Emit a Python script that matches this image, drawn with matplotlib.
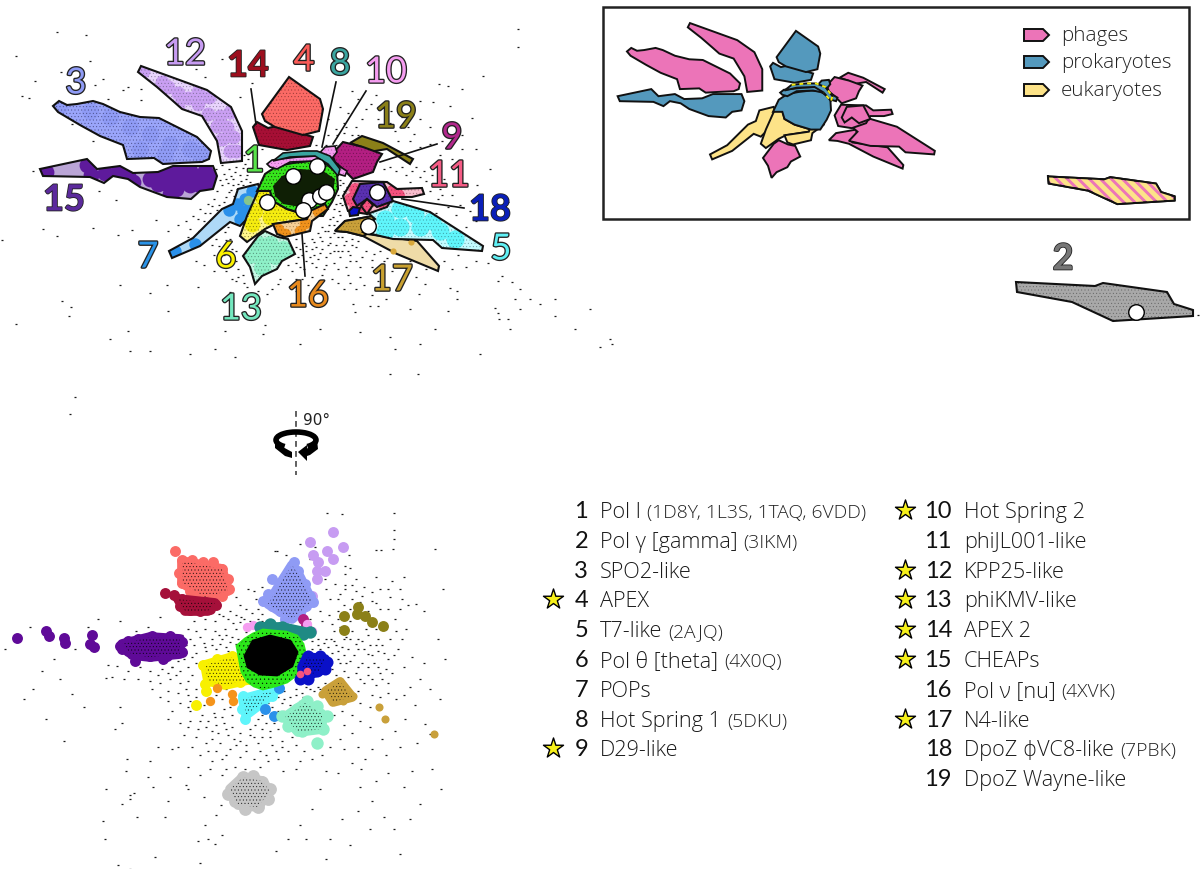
import numpy as np
import matplotlib
matplotlib.use('Agg')
import matplotlib.pyplot as plt
from matplotlib.patches import Polygon, Rectangle, Arc
from matplotlib import patheffects as pe

plt.rcParams['hatch.linewidth'] = 0.3

# outlines of the regions in the upper map
p1 = [(257,192),(265,175),(277,167),(293,164),(310,162),(323,163),(337,173),(338,190),(332,203),(323,217),(310,217),(287,210),(273,202),(270,192)]
p1_core = [(273,187),(282,177),(300,170),(323,172),(335,180),(333,193),(320,205),(300,208),(283,205),(275,197)]
p2 = [(1016,283),(1095,287),(1103,284),(1167,293),(1174,305),(1193,311),(1193,317),(1113,322),(1072,303),(1017,293)]
p3 = [(53,107),(59,102),(67,106),(77,105),(93,102),(103,105),(120,113),(140,118),(159,119),(177,128),(197,138),(211,152),(209,160),(202,163),(180,164),(163,165),(154,159),(127,160),(123,146),(100,137),(80,126),(58,113)]
p4 = [(262,115),(289,78),(320,100),(323,110),(319,132),(303,136),(275,128),(265,122)]
p5 = [(367,213),(393,202),(430,213),(483,247),(482,252),(442,249),(433,241),(393,240),(363,233),(375,220)]
p6 = [(240,237),(247,217),(259,190),(270,190),(273,202),(287,210),(310,217),(307,220),(275,225),(265,230),(247,243)]
p7 = [(169,252),(193,239),(222,210),(233,205),(238,190),(258,185),(261,193),(250,217),(240,227),(230,223),(200,247),(172,259)]
p8 = [(283,154),(303,152),(317,152),(330,157),(340,170),(338,177),(328,165),(315,157),(290,158),(273,162)]
p9 = [(332,155),(343,143),(363,148),(382,155),(377,163),(373,173),(353,180),(343,170),(335,163)]
p10 = [(267,165),(272,161),(298,158),(317,157),(325,148),(335,147),(337,153),(330,162),(347,172),(345,177),(338,175),(327,165),(313,162),(290,163),(277,170),(270,168)]
p11 = [(343,197),(352,182),(387,183),(397,190),(422,189),(424,195),(412,198),(393,198),(387,208),(367,215),(348,212)]
p12 = [(138,73),(141,67),(207,91),(231,108),(242,132),(242,162),(221,164),(217,142),(202,117),(182,110),(173,102),(157,88)]
p13 = [(243,257),(258,237),(265,232),(278,238),(288,240),(295,255),(282,262),(277,270),(262,277),(255,285),(250,268)]
p14 = [(253,128),(257,123),(268,129),(277,127),(313,138),(310,147),(287,151),(259,146)]
p15 = [(40,170),(87,160),(97,170),(120,167),(133,174),(158,173),(173,167),(213,167),(217,177),(213,190),(200,192),(191,200),(167,198),(140,188),(128,180),(113,177),(104,184),(90,178),(43,177)]
p16 = [(273,225),(307,220),(310,212),(325,205),(328,210),(312,222),(310,232),(285,238),(277,235)]
p17 = [(335,232),(345,222),(373,217),(375,227),(367,235),(417,242),(439,267),(438,272),(397,255),(363,237),(347,233)]
p17_top = [(335,232),(345,222),(373,217),(375,227),(367,235),(363,237),(347,233)]
p18 = [(353,200),(360,185),(383,183),(393,202),(377,208),(367,200),(357,207)]
p18_small = [(349,212),(353,208),(360,209),(358,216),(350,217)]
p11_diamond = [(361,207),(367,200),(373,206),(367,215)]
p19 = [(350,144),(362,137),(383,144),(413,160),(410,165),(387,150),(375,152),(373,164),(367,155),(362,148)]

# darker patches inside the outlines
blobs3 = [(60,106),(90,112),(110,118),(130,128),(150,135),(170,145),(190,150),(200,155),(140,150),(165,155)]
blobs5 = [(385,220),(400,210),(415,215),(400,228),(420,228),(440,232),(432,222),(455,240),(385,232)]
blobs6 = [(262,198),(270,207),(282,214),(255,212),(270,218),(295,216),(252,225)]
blobs7 = [(245,200),(252,192),(237,205),(243,212),(240,220),(250,208),(229,211),(195,245),(175,252)]
blobs11 = [(355,190),(350,200),(355,210),(362,212),(392,192),(398,196),(385,210)]
blobs12 = [(162,83),(168,88),(178,94),(188,99),(198,93),(209,98),(198,105),(208,115),(220,117),(230,113),(217,127),(227,128),(233,138),(222,140),(230,152),(178,107),(143,72),(236,152)]
blobs13 = [(258,245),(270,245),(283,250),(262,258),(275,257),(288,255),(250,256),(262,268)]
blobs15 = [(46,173),(87,166),(91,176),(105,174),(118,172),(128,177),(133,183),(170,195),(157,177),(165,173),(177,172),(190,172),(205,172),(212,178),(210,186),(200,186),(190,186),(180,184),(167,185),(158,185),(170,180),(185,180),(198,180),(176,190),(150,180)]
blobs16 = [(278,230),(285,235),(300,232),(305,224),(318,212),(325,208)]
blobs19 = [(362,143),(372,145),(383,148),(395,153),(405,160),(369,152),(356,142),(377,152)]

# names and colours
region_no = ['1','2','3','4','5','6','7','8','9','10','11','12','13','14','15','16','17','18','19']
label_col = ['#58e34a','#777777','#8f9bf5','#fb5b57','#5ff0f5','#fbf200','#2a93e8','#3aa5a0','#b2288c','#f59df0','#f55c85','#c79cf2','#74e8bf','#9c0f1e','#5b2a9c','#e88a1e','#c8a030','#0a1fb8','#8b8018']
label_x = [254,1063,76,304,501,226,148,340,452,386,449,185,241,248,64,308,392,490,396]
label_y = [162,260,84,61,250,258,258,65,139,73,177,55,310,67,201,297,281,211,118]
label_bold = ['14','18','15','2']

legend_names = ['Pol I','Pol γ [gamma]','SPO2-like','APEX','T7-like','Pol θ [theta]','POPs','Hot Spring 1','D29-like','Hot Spring 2','phiJL001-like','KPP25-like','phiKMV-like','APEX 2','CHEAPs','Pol ν [nu]','N4-like','DpoZ ϕVC8-like','DpoZ Wayne-like']
legend_pdb = ['(1D8Y, 1L3S, 1TAQ, 6VDD)','(3IKM)','','','(2AJQ)','(4X0Q)','','(5DKU)','','','','','','','','(4XVK)','','(7PBK)','']
legend_star = [4,9,10,12,13,14,15,17]

group_names = ['phages','prokaryotes','eukaryotes']
group_cols = ['#ec74b8','#5499bd','#fde388']

# white circles on the solved structures
white_x = [293,317,267,309,303,320,326,377,368,1136]
white_y = [177,167,203,201,211,197,193,193,227,313]

# upper map: loose dots read by eye
top_dots = [(57,33),(86,36),(16,57),(90,62),(61,73),(35,82),(103,80),(95,86),(123,91),(141,90),(22,97),(29,99),(141,101),(72,125),(93,142),(33,172),(99,192),(116,201),(156,221),(43,230),(93,229),(132,231),(2,241),(57,237),(118,236),(120,286),(167,286),(150,294),(62,302),(71,308),(69,317),(168,312),(16,325),(128,332),(265,326),(225,332),(263,335),(198,288),(247,288),(278,285),(267,295),(236,282),(230,293),
(518,30),(518,48),(483,77),(439,85),(448,87),(462,90),(420,102),(433,103),(450,107),(472,119),(420,120),(490,170),(477,186),(508,203),(450,289),(457,292),(457,300),(448,312),(495,309),(498,314),(499,320),(508,320),(512,283),(502,277),(498,282),(419,295),(353,305),(370,307),(378,307),(355,313),(360,333),(390,338),
(515,300),(555,317),(610,340),(590,310),(600,348),(510,330),(520,290),(540,305),(70,415),(75,398),(150,352),(190,355),(110,340),(130,352),(215,350),(235,358),(300,345),(320,330),(420,345),(395,350),(480,355),(390,375),(418,375),(530,300),(575,330),(612,345),(555,300),(520,310),(425,285),(410,310),(435,330),(1198,316),
(352,92),(358,100),(371,105),(340,108),(362,120),(376,96),(391,112),(402,104),(414,135),(430,128),(395,132),(408,128),(385,128),(356,128),(344,124),(328,120),(337,136),(222,60),(205,78),(176,82),(196,70),(108,100),(128,88),(240,98),(252,84),(211,102),(236,74),
(245,165),(249,172),(240,176),(236,168),(229,170),(224,175),(233,180),(228,184),(246,180),(252,170),(243,186),(237,190),(222,186),(217,192),(231,191),(214,200),(226,198),(219,206),(208,205),(200,210),(210,214),(193,217),(186,222),(204,222),(190,230),(178,226),(168,232),(220,220),(212,230),(205,236),(216,240),(225,233),(230,240),(224,248),(232,250),(214,256),(220,262),(236,262),(238,270),(226,272),(214,272),(204,266),(196,262),(232,280),(244,284),(248,296),(258,292),(272,290),(280,280),(292,272),(300,268),(306,262),(314,256),(322,250),(330,244),(338,238),(312,240),(320,238),(328,232),(334,226),(340,216),(334,210),(342,206),(330,220),(322,228),(316,248),(304,244),(296,240),(306,252),(298,258),(326,258),(334,252),(344,246),(352,240),(340,258),(348,252),(356,248),(316,268),(326,266),(338,270),(350,262),(362,258),(374,255),(360,268),(372,268),(384,262),(392,272),(348,276),(360,278),(332,280),(322,276),(312,278),(302,280),(296,292),(310,294),(326,296),(344,290),(356,290),(372,296),(386,300),(404,280),(416,278),(426,270),(444,262),(452,270),(466,268),(476,262),(458,256),(488,264),(502,258),
(340,186),(344,192),(338,196),(346,200),(340,204),(352,176),(362,176),(384,170),(396,172),(406,176),(416,168),(424,172),(438,170),(410,183),(426,182),(440,190),(452,196),(438,200),(448,208),(456,216),(466,228),(476,222),(436,214),(346,128),(358,136),(336,146),(326,146),(316,146),(300,148),(286,154),(262,150),(250,152),(244,156),(238,158),(232,148),(226,152),(248,160),(222,166),(216,170),(440,156),(452,160),(462,150),(430,145),(442,142),(462,136),(476,150)]
top_dots_near = [(243,169),(247,176),(241,182),(250,183),(235,173),(231,177),(238,185),(233,186),(226,180),(220,181),(229,193),(234,197),(224,203),(217,211),(212,207),(205,214),(198,220),(207,228),(199,232),(188,238),(216,221),(222,226),(228,228),(226,241),(219,247),(212,246),(236,252),(231,257),(224,256),(238,278),(229,264),(243,276),
(340,181),(343,184),(347,188),(349,193),(341,199),(345,205),(336,205),(339,212),(333,218),(337,222),(329,226),(325,232),(318,234),(314,243),(322,242),(330,238),(334,234),(328,246),(336,246),(342,238),(320,254),(312,250),(306,247),(300,250),(296,248),(302,256),(310,258),(318,260),(330,254),(338,252),(346,242),(352,246),(342,252),(350,256),(358,242),(366,252),(372,261),(380,252),(387,259),(356,262),(346,268),(334,264),(324,270),(312,264),(304,270),(296,264),(288,266),(296,280),(308,286),(320,284),(338,284),(350,284),(364,286),(378,282),(400,268),(410,262),(420,256),
(390,168),(402,168),(412,172),(420,178),(432,176),(444,180),(430,192),(442,196),(460,206),(470,212),(480,218),(352,136),(344,134),(336,130),(328,136),(348,114),(366,110),(378,120),(390,124),(402,118),(410,142),(420,148),(398,142)]

# lower map: loose dots read by eye
low_dots = [(327,514),(342,515),(394,514),(394,531),(394,540),(393,550),(376,551),(381,551),(349,556),(277,552),(315,548),(300,545),(241,618),(246,633),(215,622),(205,620),(219,615),(230,612),(236,598),(246,610),(256,600),(254,592),(262,588),(248,590),(240,606),(223,617),(252,614),(262,615),(258,620),(265,606),
(345,567),(350,569),(356,580),(345,575),(345,586),(356,592),(330,600),(340,595),(352,600),(362,597),(372,593),(380,590),(390,598),(388,610),(376,604),(368,612),(388,590),(400,590),(408,606),(395,620),(406,630),(402,640),(398,650),(390,640),(378,640),(368,636),(358,640),(352,632),(344,640),(334,632),(326,640),(318,640),(328,648),(338,652),(348,650),(358,650),(368,655),(378,652),(388,660),(374,664),(362,664),(350,662),(340,664),(332,670),(344,672),(356,674),(368,676),(380,674),(392,674),(388,684),(376,686),(364,684),(358,692),(372,696),(360,704),(370,708),(380,698),(388,694),(396,700),(404,696),(410,688),(404,668),(412,658),(424,664),(420,680),(430,690),(415,706),(405,720),(395,732),(382,740),(370,728),(360,722),(352,716),(342,712),(334,716),(344,726),(352,734),(340,740),(330,748),(322,756),(344,750),(358,748),(372,750),(365,760),(352,764),(386,756),(400,748),(417,744),(430,735),(412,772),(404,788),(388,774),(376,782),(360,788),(372,802),(358,812),(342,820),(384,818),(394,830),(370,830),(361,770),(338,774),(326,772),
(325,684),(318,688),(312,680),(322,696),(310,690),(302,694),(296,690),(290,698),(284,692),(300,702),(290,706),(282,704),(274,700),(268,704),(278,712),(262,716),(255,726),(250,736),(240,734),(232,728),(224,724),(234,740),(246,746),(258,744),(270,738),(282,742),(292,738),(276,752),(266,756),(254,760),(240,758),(230,750),(220,744),(212,740),(206,728),(200,722),(188,728),(196,738),(208,752),(222,760),(235,768),(222,776),(210,770),(200,776),(188,768),(178,748),(172,750),(158,748),(150,762),(127,760),(148,778),(126,772),(170,778),(188,790),(186,786),(168,802),(153,788),(134,794),(122,805),(137,818),(106,790),(103,822),(130,800),(105,840),(130,796),(165,818),(205,826),(222,836),(208,840),(198,842),(215,845),(200,864),(216,816),(221,806),(204,798),(226,770),(245,770),(260,768),(283,772),(296,770),(320,790),(312,810),(300,826),(288,840),(276,852),(306,840),(330,840),(326,860),(350,846),(118,866),(130,870),(155,858),
(194,622),(188,630),(182,636),(196,632),(205,630),(215,632),(225,630),(236,630),(232,638),(222,640),(212,640),(204,644),(194,646),(196,654),(206,652),(216,650),(226,648),(236,645),(186,646),(188,668),(180,672),(172,668),(162,670),(150,672),(140,668),(128,672),(117,667),(108,666),(112,678),(124,680),(138,680),(150,682),(160,684),(170,680),(180,684),(188,682),(192,676),(196,698),(188,696),(178,694),(168,692),(160,698),(152,690),(120,708),(106,679),(122,724),(115,730),(190,712),(202,716),(214,714),(224,710),(232,716),(216,726),(230,708),(204,706),(188,708),(172,712),(180,724),(168,720),
(275,552),(286,556),(310,560),(326,590),(338,600),(344,606),(329,616),(322,622),(332,625),(338,620),(346,638),(310,620),(320,612),(224,576),(160,618),(148,628),(136,632),(120,622),(98,620),(88,628),(75,650),(54,660),(42,672),(33,690),(24,700),(60,680),(72,695),(46,720),(84,708),(64,742),(5,650),(30,628),(416,605),(435,550),(443,590),(424,612),(438,640),(445,660),(440,700),(425,725),(432,770),(441,790),(420,805),(410,820),(400,855)]
low_dots_near = [(228,620),(233,624),(240,623),(236,616),(244,620),(250,622),(258,610),(262,622),(226,636),(219,636),(230,643),(238,640),(212,646),(220,645),(228,652),(205,648),(200,638),
(312,642),(318,646),(324,644),(331,640),(336,646),(342,648),(350,640),(356,645),(362,642),(370,646),(376,646),(382,646),(312,650),(320,650),(332,654),(344,656),(354,656),(364,650),(372,656),(384,654),(394,656),(338,660),(346,664),(358,668),(368,668),(378,668),(386,670),(336,676),(348,678),(360,680),(372,680),(382,680),
(300,684),(306,688),(314,692),(320,690),(296,696),(303,698),(278,698),(284,700),(272,708),(284,712),(290,714),(258,708),(250,730),(258,720),(266,724),(274,724),(262,730),(270,732),(278,730),(254,738),(262,738),(272,746),(282,748),(240,742),(246,752),(260,752),(268,762),(278,760),(288,752),(296,746),(304,752),(312,760),(300,762),
(215,718),(208,722),(222,718),(226,730),(218,734),(212,732),(228,736),(236,746),(226,756),(216,752),(206,744),(198,730),(190,722),(184,736),(192,748),(200,756),(212,762),
(196,664),(192,658),(184,660),(178,662),(186,654),(190,640),(172,668),(158,676),(168,674),(176,676),(186,690),(196,690),(190,702),(180,704),(168,702),(208,694),(216,696),(222,700),(226,690),
(400,610),(380,610),(372,602),(360,603),(350,610),(338,612),(366,630),(376,630),(386,630),(396,632),(350,622),(340,628),(334,642),(345,590),(335,585),(325,580),(352,586),(364,588),(376,578),(392,582),(404,578),(402,600)]

# lower map: coloured clusters, round dots and the solid part they merge into
low_4 = [(175,552),(182,561),(192,561),(203,563),(213,563),(222,570),(228,580),(229,590),(222,597),(212,600),(200,598),(190,592),(182,584),(179,574),(190,572),(200,572),(210,575),(218,582),(200,585),(210,590)]
low_14 = [(165,594),(174,596),(182,600),(180,607),(190,611),(200,612),(210,610),(216,606),(205,603),(195,604),(187,605)]
low_15 = [(17,639),(46,632),(49,637),(64,639),(65,644),(92,636),(90,645),(94,648),(120,647),(130,645),(138,640),(152,637),(170,637),(182,643),(182,653),(167,657),(150,657),(135,662),(128,652),(143,648),(157,647),(170,647),(163,660),(148,640),(128,642),(160,640),(122,650)]
low_3 = [(294,563),(290,570),(298,572),(285,578),(295,580),(305,585),(272,580),(280,587),(290,590),(300,595),(310,597),(313,603),(263,602),(268,595),(277,598),(287,600),(297,605),(306,607),(272,607),(280,612),(290,612),(300,615),(285,620)]
low_12 = [(333,533),(310,543),(343,548),(327,552),(333,560),(313,556),(318,563),(325,572),(317,572),(317,580),(312,597),(307,603)]
low_19 = [(358,608),(357,615),(365,617),(372,623),(383,627),(344,617),(344,631)]
low_8 = [(260,628),(270,625),(282,628),(293,632),(303,635),(310,633)]
low_10 = [(247,628),(253,626),(307,625),(312,632)]
low_9 = [(303,620),(306,626)]
low_18 = [(308,657),(320,657),(327,663),(317,672),(305,668),(300,680),(308,680),(325,670)]
low_11 = [(307,672),(300,675)]
low_17 = [(340,682),(333,688),(343,688),(327,693),(337,697),(348,697),(322,695),(333,702),(343,702),(353,697),(379,708),(385,720),(434,735)]
low_13 = [(307,702),(317,707),(327,717),(323,730),(302,732),(288,727),(282,717),(297,710),(310,717),(303,723),(317,723),(317,744)]
low_5 = [(245,720),(242,710),(250,707),(243,697),(257,700),(267,697),(277,690),(272,697)]
low_7 = [(265,710),(274,717),(279,689)]
low_6 = [(203,666),(217,660),(232,657),(213,673),(228,670),(240,667),(223,683),(240,683),(250,680),(205,685),(206,692),(196,706)]
low_16 = [(217,689),(210,702),(232,695),(233,702)]
low_2 = [(235,790),(243,778),(253,777),(262,783),(270,790),(268,800),(258,808),(245,810),(235,802),(228,795),(250,790),(255,797),(242,798),(250,784)]
low_1_halo = [(237,647),(245,640),(253,635),(263,631),(273,632),(286,633),(297,637),(303,645),(305,653),(304,662),(300,670),(295,677),(287,683),(275,687),(263,690),(254,687),(247,682),(242,673),(240,663)]
low_1_core = [(245,657),(253,642),(270,637),(290,642),(297,653),(292,667),(277,676),(260,675),(248,668)]

solid_4 = [(182,562),(222,570),(228,592),(205,598),(182,584)]
solid_14 = [(178,600),(215,604),(208,612),(185,612)]
solid_15 = [(122,645),(150,638),(180,640),(180,655),(150,658),(132,656)]
solid_3 = [(292,566),(300,578),(312,602),(292,620),(268,605),(280,585)]
solid_6 = [(205,666),(232,658),(252,680),(225,686),(208,682)]
solid_13 = [(285,718),(305,704),(322,715),(322,730),(298,733)]
solid_17 = [(326,692),(340,683),(352,698),(333,703)]
solid_2 = [(230,790),(243,778),(262,782),(270,792),(258,808),(238,806)]
solid_5 = [(243,700),(276,691),(262,704),(246,716)]
solid_18 = [(307,658),(325,660),(320,672),(303,678),(302,668)]
solid_8 = [(260,628),(282,628),(310,634),(294,634),(270,628)]

fig = plt.figure(figsize=(12.03, 8.7), dpi=100)
ax = fig.add_axes([0, 0, 1, 1])
ax.set_xlim(0, 1203)
ax.set_ylim(870, 0)
ax.axis('off')

edge = '#111111'


def region(pts, col, blobs=None, blob_col=None, blob_s=90, dots=None, z=3, lw=1.5):
    patch = Polygon(pts, closed=True, fc=col, ec='none', zorder=z)
    ax.add_patch(patch)
    if blobs is not None:
        b = np.array(blobs)
        sc = ax.scatter(b[:, 0], b[:, 1], s=blob_s, c=blob_col, lw=0, zorder=z)
        sc.set_clip_path(patch)
    if dots is not None:
        ax.add_patch(Polygon(pts, closed=True, fill=False, ec=dots, hatch='.....', lw=0, zorder=z))
    ax.add_patch(Polygon(pts, closed=True, fill=False, ec=edge, lw=lw, joinstyle='miter', zorder=z))
    return patch


def dashes(points, z=2, s=3.5):
    d = np.array(points)
    ax.scatter(d[:, 0], d[:, 1], s=s, marker='_', c='#1a1a1a', lw=0.9, zorder=z)


def cluster(points, col, solid=None, s=62, z=3, dots='#000000dd'):
    c = np.array(points)
    ax.scatter(c[:, 0], c[:, 1], s=s, c=col, lw=0, zorder=z)
    if solid is not None:
        ax.add_patch(Polygon(solid, closed=True, fc=col, ec=col, lw=7, joinstyle='round', zorder=z))
        if dots:
            ax.add_patch(Polygon(solid, closed=True, fill=False, ec=dots, hatch='.....', lw=0, zorder=z))


# upper map
dashes(top_dots)
dashes(top_dots_near)
region(p12, '#e8d4fc', blobs12, '#c99ff2', 100, '#55506a99')
region(p3, '#9aa5fa', blobs3, '#8f9bf5', 150, '#2a2a5aaa')
region(p15, '#baa5d6', blobs15, '#5e1a9c', 130)
region(p7, '#aed9f7', blobs7, '#2a90ea', 80)
ax.scatter([248], [201], s=45, c='#86c58c', lw=0, zorder=3)
region(p14, '#a60f35', dots='#40000a66')
region(p4, '#fb6a65', dots='#4a101088')
region(p19, '#d8cd95', blobs19, '#8b8018', 110)
region(p9, '#b31f82', dots='#33001f77')
region(p13, '#c5f8e5', blobs13, '#8ef0c8', 150, '#22443888')
region(p6, '#fff68a', blobs6, '#f5ec10', 130, '#3a380099')
region(p1, '#36e51c', dots='#0a2a00')
region(p1_core, '#0f1f05', lw=0)
ax.patches[-1].set_edgecolor('none')
region(p16, '#f6cf95', blobs16, '#f0921c', 70, '#40200066')
region(p10, '#f59df0', dots='#50205066', lw=1.2)
region(p8, '#3aa5a0', lw=1.2)
region(p17, '#efdca8')
region(p17_top, '#c9a03a', dots='#40300066')
ax.scatter([393, 411], [252, 243], s=20, c='#d9a83a', lw=0, zorder=3)
region(p5, '#c2fbff', blobs5, '#5ff5fb', 170, '#1a4a5077')
region(p11, '#f8bdcd', blobs11, '#f4527f', 85, '#40101866')
region(p18, '#5a30b0', dots='#15084066')
region(p18_small, '#0a10c8')
region(p11_diamond, '#f4527f', dots='#40101866')
region(p2, '#a8a8a8', dots='#30303088')

ax.plot([251, 256], [90, 125], c=edge, lw=1.2, zorder=4)
ax.plot([336, 322], [83, 148], c=edge, lw=1.2, zorder=4)
ax.plot([366, 333], [92, 145], c=edge, lw=1.2, zorder=4)
ax.plot([437, 380], [145, 163], c=edge, lw=1.2, zorder=4)
ax.plot([464, 402], [209, 200], c=edge, lw=1.2, zorder=4)
ax.plot([305, 302], [277, 235], c=edge, lw=1.2, zorder=4)

ax.scatter(white_x, white_y, s=125, c='white', edgecolors='black', lw=1.0, zorder=5)

for n, c, x, y in zip(region_no, label_col, label_x, label_y):
    bold = n in label_bold
    ax.text(x, y, n, color=c, family='Lato', weight='bold' if bold else 'normal', fontsize=26, ha='center',
            va='center', zorder=6, path_effects=[pe.withStroke(linewidth=1.2 if bold else 1.9, foreground='#222222')])

# inset with the same outlines, scaled
ax.add_patch(Rectangle((603, 8), 586, 212, fill=False, ec='#222222', lw=1.8, zorder=3))


def inset(pts, col, x0=589):
    a = np.array(pts, dtype=float)
    a[:, 0] = a[:, 0] * 0.716 + x0
    a[:, 1] = a[:, 1] * 0.71 - 23.5
    return ax.add_patch(Polygon(a, closed=True, fc=col, ec=edge, lw=1.4, joinstyle='miter', zorder=4))


pink, blue, yellow = group_cols[0], group_cols[1], group_cols[2]
for pts, col in [(p12, pink), (p3, pink), (p15, blue), (p7, yellow), (p14, blue), (p4, blue), (p19, pink), (p9, pink),
                 (p13, pink), (p6, yellow), (p16, yellow), (p1, blue), (p10, blue), (p8, blue), (p17, pink), (p5, pink),
                 (p11, pink), (p18, pink)]:
    inset(pts, col)
a8 = np.array(p8, dtype=float)
ax.plot(a8[:7, 0] * 0.716 + 589, a8[:7, 1] * 0.71 - 23.5, c='#f5ee10', lw=1.4, ls=(0, (2, 2)), zorder=5)

p2_patch = inset(p2, pink, 320.5)
for c in np.arange(1030, 1230, 11):
    line, = ax.plot([c, c + 40], [170, 210], c=yellow, lw=3.5, zorder=4)
    line.set_clip_path(p2_patch)
p2_line = np.array(p2 + p2[:1], dtype=float)
ax.plot(p2_line[:, 0] * 0.716 + 320.5, p2_line[:, 1] * 0.71 - 23.5, c=edge, lw=1.4, zorder=5)

for name, col, y in zip(group_names, group_cols, [36, 63, 91]):
    ax.add_patch(Polygon([(1024, y - 6), (1043, y - 6), (1049, y), (1043, y + 6), (1024, y + 6)], closed=True,
                         fc=col, ec=edge, lw=1.4, zorder=4))
    ax.text(1061, y, name, family='Open Sans', weight='light', fontsize=14.8, color='#222222', va='center', zorder=4)

# rotation sign
ax.plot([296, 296], [412, 476], c='#444444', lw=1.2, ls=(0, (3.5, 2.5)), zorder=2)
ax.add_patch(Arc((296, 441), 40, 16, theta1=150, theta2=390, lw=4, color='black', zorder=3))
ax.add_patch(Polygon([(275, 441), (275, 449), (285, 457), (292, 459), (292, 453), (281, 447)], fc='black', ec='none', zorder=3))
ax.add_patch(Polygon([(317, 441), (318, 450), (310, 456), (304, 458), (304, 451), (312, 447)], fc='black', ec='none', zorder=3))
ax.add_patch(Polygon([(298, 453), (307, 446), (307, 462)], fc='black', ec='none', zorder=3))
ax.text(303, 421, '90°', fontsize=11, color='#222222', va='center', zorder=4)

# lower map
dashes(low_dots)
dashes(low_dots_near)
cluster(low_4, '#fb6b66', solid_4)
cluster(low_14, '#a5103a', solid_14)
cluster(low_15, '#5f0a98', solid_15)
cluster(low_12, '#c79cf2')
cluster(low_3, '#8f9bf5', solid_3)
cluster(low_19, '#8b8018')
cluster(low_9, '#b31f82')
cluster(low_10, '#f59df0', s=45)
cluster(low_8, '#1f8a84', solid_8, s=80, dots=None)
cluster(low_5, '#5ff5fb', solid_5)
cluster(low_7, '#2a90ea')
cluster(low_13, '#8ef0c8', solid_13, s=80)
cluster(low_17, '#c9a03a', solid_17, s=34)
cluster(low_6, '#f8f000', solid_6)
cluster(low_16, '#f5941a', s=45)
cluster(low_2, '#c6c6c6', solid_2, s=85)
ax.add_patch(Polygon(low_1_halo, closed=True, fc='#2be81a', ec='#2be81a', lw=2, zorder=3))
ax.add_patch(Polygon(low_1_halo, closed=True, fill=False, ec='black', hatch='....', lw=0, zorder=3))
ax.add_patch(Polygon(low_1_core, closed=True, fc='black', ec='black', lw=2, zorder=3))
cluster(low_18, '#0a10c8', solid_18, s=75)
cluster(low_11, '#f4527f', s=30)

# legend list
fig.canvas.draw()
rend = fig.canvas.get_renderer()
inv = ax.transData.inverted()
for i, (n, name, pdb) in enumerate(zip(region_no, legend_names, legend_pdb)):
    row = i if i < 9 else i - 9
    y = 518 + 29.8 * row
    xn, xt, xs = (588, 600, 553) if i < 9 else (952, 964, 905)
    ax.text(xn, y, n, family='Lato', fontsize=17, ha='right', va='baseline', color='#111111')
    t = ax.text(xt, y, name, family=['Open Sans', 'DejaVu Sans'], weight='light', fontsize=15.6, va='baseline', color='#1a1a1a')
    if pdb:
        x1 = inv.transform(t.get_window_extent(rend).get_points())[1, 0]
        ax.text(x1 + 6, y, pdb, family='Open Sans', weight='light', fontsize=13.9, va='baseline', color='#222222')
    if i + 1 in legend_star:
        ax.scatter([xs], [y - 7], s=230, marker='*', c='#f6f01a', edgecolors='black', lw=1.0, zorder=4)

fig.savefig('out.png', dpi=100)
